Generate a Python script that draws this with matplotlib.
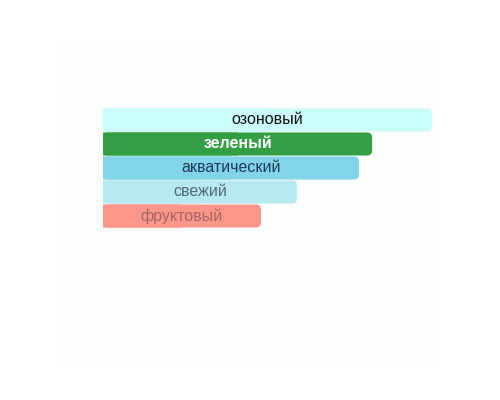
import matplotlib
matplotlib.use("Agg")
import matplotlib.pyplot as plt
from matplotlib.patches import FancyBboxPatch, Rectangle

categories = ["озоновый", "зеленый", "акватический", "свежий", "фруктовый"]
values = [100, 81.8, 77.8, 59.0, 48.0]
bar_colors = ["#c9fcfb", "#349e45", "#82d4e8", "#b8e9ef", "#fa978a"]
text_colors = ["#111111", "#ffffff", "#1e3a58", "#506c78", "#a86662"]
text_weights = ["normal", "bold", "normal", "normal", "normal"]

W, H = 500, 400
fig = plt.figure(figsize=(5, 4), dpi=100)
fig.patch.set_facecolor("white")
# faint background panel
fig.add_artist(Rectangle((62 / W, 1 - 363 / H), (438 - 62) / W, (363 - 40) / H,
                         transform=fig.transFigure, facecolor="#fcfdfd",
                         edgecolor="none", zorder=0))

ax = fig.add_axes([103 / W, 1 - 228 / H, 329 / W, 120 / H])
ax.set_xlim(0, 100)
ax.set_ylim(len(categories) - 0.5, -0.5)
ax.axis("off")
ax.patch.set_alpha(0)

ypos = list(range(len(categories)))
bars = ax.barh(ypos, values, height=0.96, color=bar_colors)
px_x = 100 / 329.0
px_y = 5 / 120.0
r = 5 * px_x
for b, c in zip(bars, bar_colors):
    x0, y0 = b.get_x(), b.get_y()
    w, h = b.get_width(), b.get_height()
    b.set_visible(False)
    ax.add_patch(FancyBboxPatch((x0, y0), w, h,
                                boxstyle=f"round,pad=0,rounding_size={r}",
                                mutation_aspect=px_y / px_x,
                                facecolor=c, edgecolor="none", snap=False))
    rect = Rectangle((x0, y0), w / 2, h, facecolor=c, edgecolor="none", snap=False)
    ax.add_patch(rect)

for y, v, lab, tc, tw in zip(ypos, values, categories, text_colors, text_weights):
    ax.text(v / 2, y, lab, ha="center", va="center", color=tc,
            fontsize=11.5, fontweight=tw, family="Liberation Sans")

fig.savefig("out.png", dpi=100)
